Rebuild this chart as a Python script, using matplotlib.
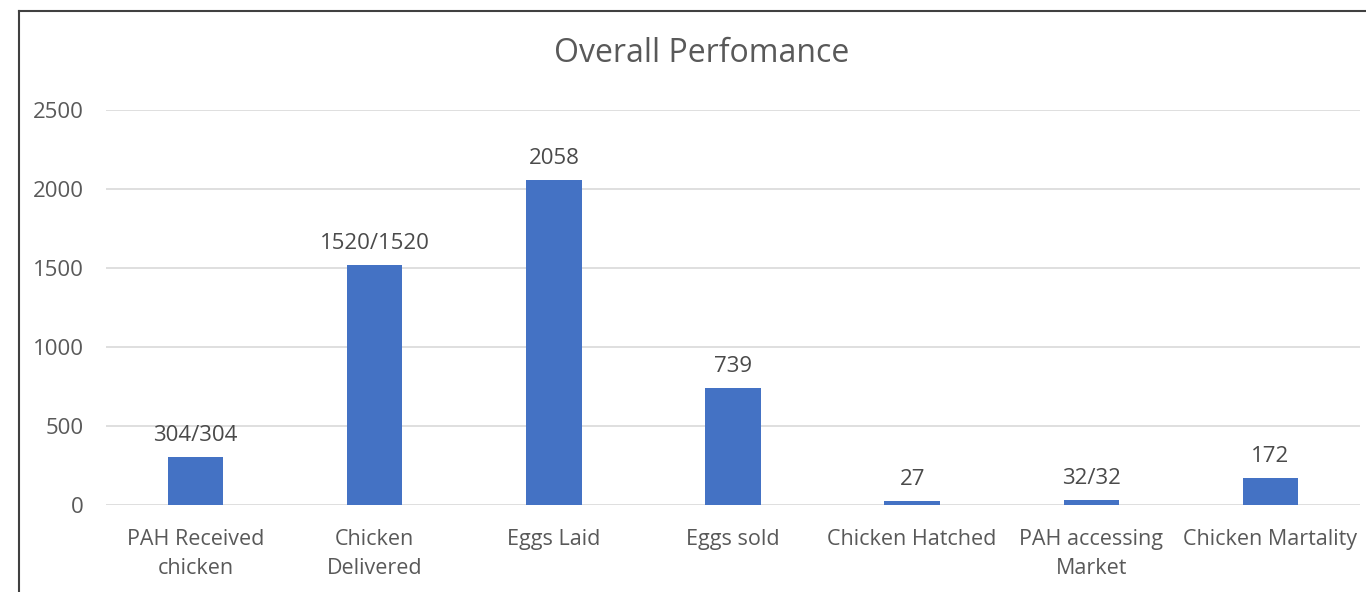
import matplotlib
matplotlib.use("Agg")
import matplotlib.pyplot as plt
from matplotlib.lines import Line2D

categories = ["PAH Received\nchicken", "Chicken\nDelivered", "Eggs Laid", "Eggs sold",
              "Chicken Hatched", "PAH accessing\nMarket", "Chicken Martality"]
values = [304, 1520, 2058, 739, 27, 32, 172]
value_labels = ["304/304", "1520/1520", "2058", "739", "27", "32/32", "172"]
yticks = [0, 500, 1000, 1500, 2000, 2500]

plt.rcParams['font.family'] = ['Open Sans', 'DejaVu Sans']
text_color = "#595959"

W, H = 1366, 592
fig = plt.figure(figsize=(W/100, H/100), dpi=100)
ax = fig.add_axes([106/W, 1-505/H, (1360-106)/W, (505-110)/H])

x = list(range(len(categories)))
bars = ax.bar(x, values, width=0.31, color="#4472C4", zorder=3)
for xi, v, lab in zip(x, values, value_labels):
    ax.annotate(lab, (xi, v), xytext=(0, 8), textcoords="offset points",
                ha="center", va="bottom", fontsize=16, color="#4a4a4a")

ax.set_xlim(-0.5, 6.5)
ax.set_ylim(0, 2500)
ax.set_yticks(yticks)
ax.set_yticklabels([str(t) for t in yticks])
ax.set_xticks(x)
ax.set_xticklabels(categories, linespacing=1.5)
ax.tick_params(axis="both", length=0, labelcolor=text_color)
ax.tick_params(axis="y", pad=16, labelsize=16)
ax.tick_params(axis="x", pad=17.5, labelsize=15.5)
ax.grid(axis="y", color="#D9D9D9", linewidth=1.2, zorder=0)
for s in ax.spines.values():
    s.set_visible(False)

fig.text(702/W, 1-54/H, "Overall Perfomance", ha="center", va="center",
         fontsize=23, color=text_color)

# screenshot border
fig.add_artist(Line2D([18.5/W, 1], [1-10.5/H, 1-10.5/H], transform=fig.transFigure,
                      color="#404040", linewidth=1.5))
fig.add_artist(Line2D([18.5/W, 18.5/W], [0, 1-10.5/H], transform=fig.transFigure,
                      color="#404040", linewidth=1.5))

fig.savefig("out.png", dpi=100)
